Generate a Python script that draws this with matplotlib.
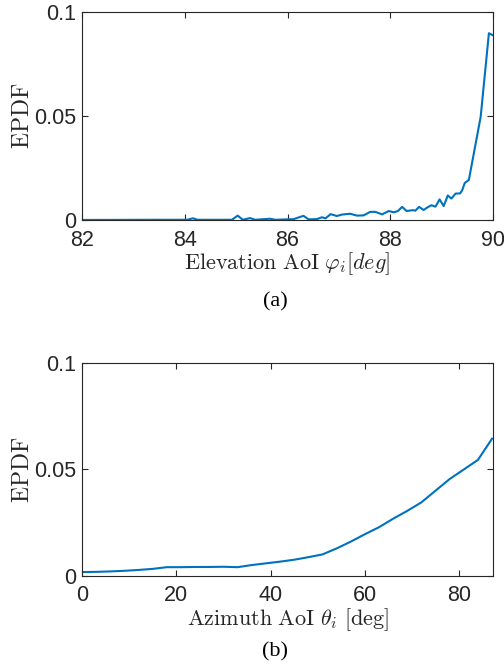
import numpy as np
import matplotlib
matplotlib.use("Agg")
import matplotlib.pyplot as plt

# (a) elevation AoI EPDF
elev_deg = [82.0, 83.5, 84.05, 84.16, 84.25, 84.92, 85.03, 85.13, 85.27, 85.37,
            85.66, 85.76, 85.99, 86.12, 86.31, 86.41, 86.57, 86.67, 86.74, 86.84,
            86.96, 87.06, 87.22, 87.35, 87.48, 87.61, 87.71, 87.84, 87.97, 88.07,
            88.15, 88.23, 88.32, 88.43, 88.49, 88.56, 88.65, 88.72, 88.80, 88.88,
            88.96, 89.04, 89.12, 89.19, 89.27, 89.36, 89.40, 89.45, 89.53, 89.76,
            89.92, 90.0]
elev_pdf = [0.0, 0.0001, 0.0001, 0.0008, 0.0001, 0.0001, 0.0021, 0.0001, 0.0009, 0.0001,
            0.0006, 0.0001, 0.0003, 0.0004, 0.0020, 0.0003, 0.0004, 0.0013, 0.0008, 0.0028,
            0.0019, 0.0026, 0.0030, 0.0021, 0.0022, 0.0039, 0.0039, 0.0027, 0.0043, 0.0037,
            0.0043, 0.0063, 0.0043, 0.0047, 0.0045, 0.0063, 0.0048, 0.0060, 0.0071, 0.0064,
            0.0099, 0.0067, 0.0118, 0.0103, 0.0127, 0.0128, 0.0143, 0.0178, 0.0193, 0.0497,
            0.0899, 0.0889]

# (b) azimuth AoI EPDF
azim_deg = [0, 3, 6, 9, 12, 15, 18, 21, 24, 27, 30, 33, 36, 39, 42,
            45, 48, 51, 54, 57, 60, 63, 66, 69, 72, 75, 78, 81, 84, 87]
azim_pdf = [0.0017, 0.0018, 0.0020, 0.0023, 0.0027, 0.0032, 0.0040, 0.0040, 0.0041, 0.0041,
            0.0042, 0.0040, 0.0050, 0.0058, 0.0066, 0.0075, 0.0087, 0.0100, 0.0128, 0.0160,
            0.0195, 0.0228, 0.0268, 0.0305, 0.0345, 0.0400, 0.0455, 0.0500, 0.0545, 0.0645]

plt.rcParams['mathtext.fontset'] = 'cm'
blue = '#0072BD'
edge = '#262626'

fig = plt.figure(figsize=(5.04, 6.69), dpi=100)
ax1 = fig.add_axes([0.1627, 0.6712, 0.8155, 0.3105])
ax2 = fig.add_axes([0.1627, 0.1395, 0.8155, 0.3175])

def style(ax):
    for s in ax.spines.values():
        s.set_color(edge)
        s.set_linewidth(0.8)
    ax.tick_params(direction='in', top=True, right=True, length=4, width=0.8,
                   color=edge, labelsize=15.5, labelcolor=edge, pad=4)
    ax.tick_params(axis='x', pad=7)
    for lab in ax.get_xticklabels():
        lab.set_fontfamily('Liberation Sans')
    ax.set_ylim(0, 0.1)
    ax.set_yticks([0, 0.05, 0.1])
    ax.set_yticklabels(['0', '0.05', '0.1'], fontfamily='Liberation Sans')

ax1.plot(elev_deg, elev_pdf, color=blue, lw=1.5)
ax1.set_xlim(82, 90)
ax1.set_xticks([82, 84, 86, 88, 90])
style(ax1)
ax1.set_xlabel(r'$\mathrm{Elevation\ AoI}\ \varphi_i[deg]$', fontsize=16, color=edge, labelpad=0)
ax1.set_ylabel(r'$\mathrm{EPDF}$', fontsize=17, color=edge, labelpad=0)

ax2.plot(azim_deg, azim_pdf, color=blue, lw=1.5)
ax2.set_xlim(0, 87.2)
ax2.set_xticks([0, 20, 40, 60, 80])
style(ax2)
ax2.set_xlabel(r'$\mathrm{Azimuth\ AoI}\ \theta_i\ \mathrm{[deg]}$', fontsize=16, color=edge, labelpad=0)
ax2.set_ylabel(r'$\mathrm{EPDF}$', fontsize=17, color=edge, labelpad=0)

fig.text(0.546, 1 - 302 / 669, '(a)', ha='center', va='center', fontsize=16,
         fontfamily='Liberation Serif')
fig.text(0.546, 1 - 652 / 669, '(b)', ha='center', va='center', fontsize=16,
         fontfamily='Liberation Serif')

fig.savefig('out.png', dpi=100)
